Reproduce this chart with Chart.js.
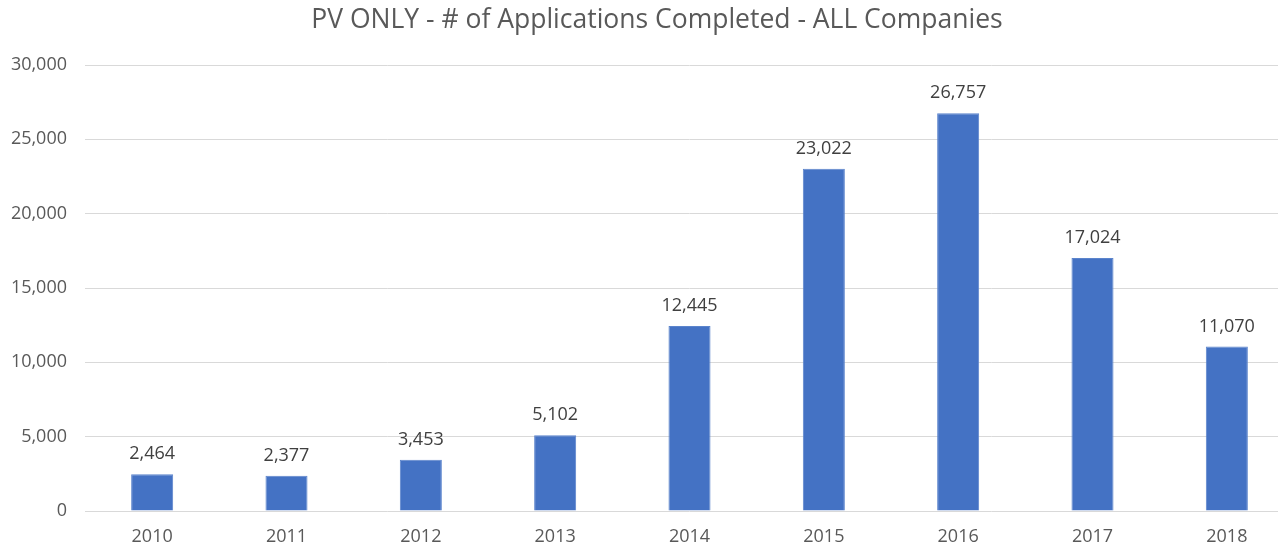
<!DOCTYPE html>
<html>
<head>
<meta charset="utf-8">
<script src="https://cdn.jsdelivr.net/npm/chart.js@4/dist/chart.umd.min.js"></script>
<style>
html,body{margin:0;padding:0;background:#fff;overflow:hidden;width:1278px;height:546px;}
#wrap{position:absolute;left:0;top:0;width:1294px;height:546px;}
</style>
</head>
<body>
<div id="wrap"><canvas id="c" width="1294" height="546"></canvas></div>
<script>
const titleText = "PV ONLY - # of Applications Completed - ALL Companies";
const categories = ["2010","2011","2012","2013","2014","2015","2016","2017","2018"];
const applications = [2464, 2377, 3453, 5102, 12445, 23022, 26757, 17024, 11070];
const yTicks = [0, 5000, 10000, 15000, 20000, 25000, 30000];

const FONT = "'Open Sans', sans-serif";
const fmt = v => v.toLocaleString('en-US');

const labelPlugin = {
  id: 'labels',
  afterDatasetsDraw(chart) {
    const ctx = chart.ctx;
    const meta = chart.getDatasetMeta(0);
    ctx.save();
    ctx.font = "18px " + FONT;
    ctx.fillStyle = "#404040";
    ctx.textAlign = "center";
    ctx.textBaseline = "middle";
    meta.data.forEach((bar, i) => {
      ctx.fillText(fmt(applications[i]), bar.x, bar.y - 20);
    });
    ctx.restore();
  }
};
const titlePlugin = {
  id: 'mytitle',
  afterDraw(chart) {
    const ctx = chart.ctx;
    ctx.save();
    ctx.font = "26.5px " + FONT;
    ctx.fillStyle = "#595959";
    ctx.textAlign = "center";
    ctx.textBaseline = "middle";
    ctx.fillText(titleText, 657, 20);
    ctx.restore();
  }
};

new Chart(document.getElementById('c'), {
  type: 'bar',
  data: {
    labels: categories,
    datasets: [{
      data: applications,
      backgroundColor: '#4472C4',
      borderColor: '#5B84CC',
      borderWidth: 1,
      barPercentage: 0.313,
      categoryPercentage: 1.0
    }]
  },
  options: {
    responsive: false,
    animation: false,
    layout: { padding: { top: 65, left: 0, right: 0, bottom: 0 } },
    plugins: { legend: { display: false }, tooltip: { enabled: false }, title: { display: false } },
    scales: {
      x: {
        grid: { display: false, drawTicks: false },
        border: { display: false },
        ticks: { color: '#595959', font: { family: FONT, size: 18 }, padding: 15 },
        afterFit(s) { s.height = 35; }
      },
      y: {
        min: 0, max: 30000,
        afterBuildTicks(s) { s.ticks = yTicks.map(v => ({ value: v })); },
        grid: { color: '#D9D9D9', lineWidth: 1, drawTicks: false },
        border: { display: false },
        ticks: { color: '#595959', font: { family: FONT, size: 18 }, padding: 18, callback: v => fmt(v) },
        afterFit(s) { s.width = 85; }
      }
    }
  },
  plugins: [labelPlugin, titlePlugin]
});
</script>
</body>
</html>
